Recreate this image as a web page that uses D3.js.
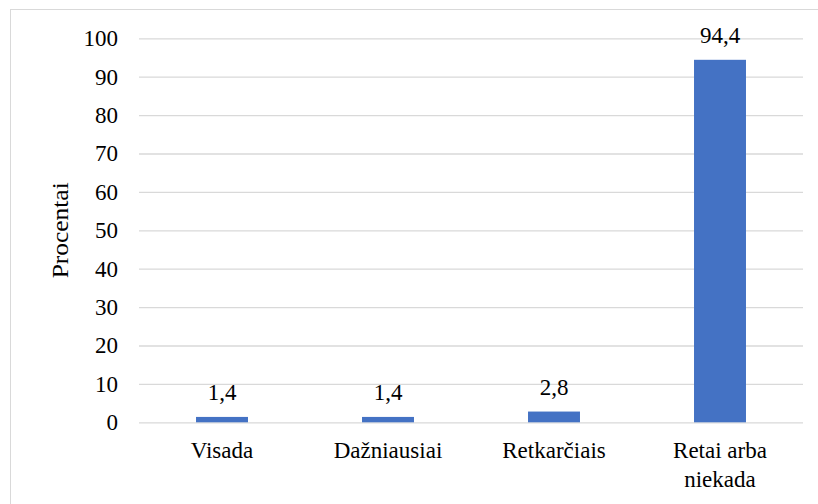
<!DOCTYPE html>
<html>
<head>
<meta charset="utf-8">
<script src="https://cdn.jsdelivr.net/npm/d3@7"></script>
<style>
  html, body { margin: 0; padding: 0; background: #fff; }
  svg { display: block; }
</style>
</head>
<body>
<svg id="chart" width="818" height="504"></svg>
<script>
// Atsakymų kategorijos ir jų dalis procentais
const categories = [["Visada"], ["Dažniausiai"], ["Retkarčiais"], ["Retai arba", "niekada"]];
const values = [1.4, 1.4, 2.8, 94.4];
const valueLabels = ["1,4", "1,4", "2,8", "94,4"];
const yTicks = [0, 10, 20, 30, 40, 50, 60, 70, 80, 90, 100];
const yTitle = "Procentai";

const svg = d3.select("#chart");
const W = 818, H = 504;
const plot = { left: 139, right: 803, top: 38.3, bottom: 422.3 };
const fontFamily = "'Liberation Serif', 'Times New Roman', serif";
const fontSize = "23px";
const barColor = "#4472C4";
const gridColor = "#d9d9d9";

function serif(sel) {
  return sel.style("font-family", fontFamily).style("font-size", fontSize).style("fill", "#000");
}

// Chart frame
svg.append("rect")
  .attr("x", 10.5).attr("y", 9.5)
  .attr("width", W + 20).attr("height", H + 20)
  .attr("fill", "#fff")
  .attr("stroke", "#d9d9d9").attr("stroke-width", 1);

const keys = categories.map(c => c.join(" "));
const x = d3.scaleBand()
  .domain(keys)
  .range([plot.left, plot.right])
  .paddingInner(0.687)
  .paddingOuter(0.3435);

const y = d3.scaleLinear()
  .domain([0, 100])
  .range([plot.bottom, plot.top]);

// Horizontal gridlines with value ticks
const yAxis = svg.append("g")
  .attr("transform", `translate(${plot.left},0)`)
  .call(d3.axisLeft(y).tickValues(yTicks).tickFormat(d3.format("d"))
    .tickSize(-(plot.right - plot.left)).tickPadding(21));
yAxis.select(".domain").remove();
yAxis.selectAll(".tick line").attr("stroke", gridColor).attr("stroke-width", 1.3);
serif(yAxis.selectAll(".tick text"));

// Bars
svg.append("g").selectAll("rect")
  .data(values)
  .join("rect")
  .attr("x", (d, i) => x(keys[i]))
  .attr("width", x.bandwidth())
  .attr("y", d => y(d))
  .attr("height", d => y(0) - y(d))
  .attr("fill", barColor);

// Value labels above bars
serif(svg.append("g").selectAll("text")
  .data(values)
  .join("text")
  .attr("x", (d, i) => x(keys[i]) + x.bandwidth() / 2)
  .attr("y", d => y(d) - 16.5)
  .attr("text-anchor", "middle")
  .text((d, i) => valueLabels[i]));

// Category labels (wrapped over lines)
const cat = serif(svg.append("g").selectAll("text")
  .data(categories)
  .join("text")
  .attr("x", (d, i) => x(keys[i]) + x.bandwidth() / 2)
  .attr("y", 457.5)
  .attr("text-anchor", "middle"));
cat.selectAll("tspan")
  .data(d => d)
  .join("tspan")
  .attr("x", function () { return this.parentNode.getAttribute("x"); })
  .attr("dy", (d, i) => i === 0 ? 0 : 29)
  .text(d => d);

// Axis title
serif(svg.append("text")
  .attr("transform", `translate(68,${(plot.top + plot.bottom) / 2}) rotate(-90)`)
  .attr("text-anchor", "middle")
  .attr("textLength", 96)
  .attr("lengthAdjust", "spacingAndGlyphs")
  .text(yTitle));
</script>
</body>
</html>
